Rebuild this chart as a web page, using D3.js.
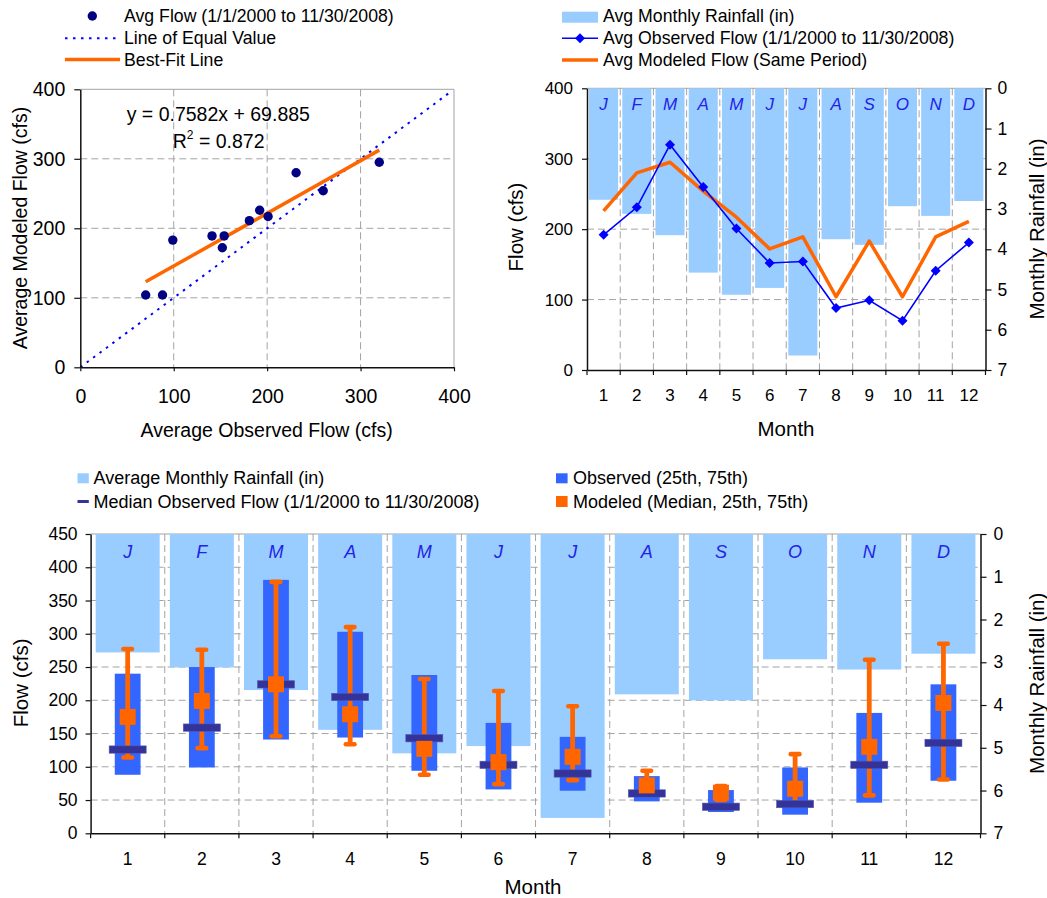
<!DOCTYPE html>
<html><head><meta charset="utf-8">
<script src="https://cdn.jsdelivr.net/npm/d3@7"></script>
<style>
body{margin:0;background:#fff;}
svg{display:block;font-family:"Liberation Sans",Arial,Helvetica,sans-serif;}
</style></head><body>
<svg id="c" width="1047" height="898"></svg>
<script>
// ---------------- DATA ----------------
const months = [1,2,3,4,5,6,7,8,9,10,11,12];
const monthLetters = ["J","F","M","A","M","J","J","A","S","O","N","D"];
const rainfall = [2.77, 3.12, 3.65, 4.58, 5.13, 4.96, 6.64, 3.75, 3.89, 2.93, 3.17, 2.80];
const avgObserved = [192, 231, 320, 260, 201, 152, 154, 88, 99, 70, 141, 181];
const avgModeled  = [226, 280, 295, 254, 217, 172, 189, 104, 183, 104, 189, 211];
const fitSlope = 0.7582, fitIntercept = 69.885, fitR2 = 0.872;
const obsMedian = [126, 159, 224, 205, 143, 103, 90, 60, 40, 44, 103, 136];
const obsP25    = [88, 99, 141, 144, 94, 66, 64, 48, 32, 28, 46, 79];
const obsP75    = [240, 250, 381, 303, 238, 166, 145, 86, 65, 99, 181, 224];
const modMedian = [175, 199, 224, 179, 127, 107, 115, 72, 61, 67, 130, 196];
const modP25    = [114, 128, 146, 134, 88, 74, 80, 62, 50, 45, 57, 81];
const modP75    = [277, 276, 378, 310, 232, 214, 191, 94, 71, 119, 261, 285];
const scatterTicks = [0,100,200,300,400];
const flowTicksTop = [0,100,200,300,400];
const rainTicks = [0,1,2,3,4,5,6,7];
const flowTicksBottom = [0,50,100,150,200,250,300,350,400,450];

// ---------------- STYLE ----------------
const GRID = "#a3a3a3", AXIS = "#111", RAIN = "#99ccff", ORANGE = "#ff6600",
      OBSLINE = "#0000ff", BOX = "#3366ff", NAVY = "#333399", DOT = "#000080", LETTER = "#2323e6";
const svg = d3.select("#c");
const fmtInt = d3.format("d");

function styleAxis(g, fs) {
  g.select(".domain").attr("stroke", AXIS).attr("stroke-width", 1.5);
  g.selectAll(".tick line").attr("stroke", AXIS).attr("stroke-width", 1.2);
  g.selectAll(".tick text").attr("font-size", fs).attr("fill", "#000")
    .attr("font-family", '"Liberation Sans",Arial,sans-serif');
}
function dashed(sel) { return sel.attr("stroke", GRID).attr("stroke-width", 1).attr("stroke-dasharray", "7,4"); }
function vtitle(g, text, cx, cy, fs) {
  g.append("text").attr("transform", `translate(${cx},${cy}) rotate(-90)`)
    .attr("text-anchor", "middle").attr("dominant-baseline", "central")
    .attr("font-size", fs).text(text);
}
function htitle(g, text, cx, cy, fs) {
  g.append("text").attr("x", cx).attr("y", cy).attr("text-anchor", "middle")
    .attr("dominant-baseline", "central").attr("font-size", fs).text(text);
}
function legendText(g, text, x, y, fs) {
  g.append("text").attr("x", x).attr("y", y).attr("dominant-baseline", "central")
    .attr("font-size", fs).text(text);
}
const diamond = "M0,-5L5,0L0,5L-5,0Z";

// ================= CHART 1: scatter =================
(function(){
  const p = {l:80.3, r:454, t:89.3, b:367.3};
  const x = d3.scaleLinear().domain([0,400]).range([p.l,p.r]);
  const y = d3.scaleLinear().domain([0,400]).range([p.b,p.t]);
  const g = svg.append("g");
  const inner = scatterTicks.filter(v => v > 0 && v < 400);
  dashed(g.selectAll(".gv").data(inner).join("line")
    .attr("x1", d=>x(d)).attr("x2", d=>x(d)).attr("y1", p.t).attr("y2", p.b));
  dashed(g.selectAll(".gh").data(inner).join("line")
    .attr("y1", d=>y(d)).attr("y2", d=>y(d)).attr("x1", p.l).attr("x2", p.r));
  g.append("path").attr("d", `M${p.l},${p.t}H${p.r}V${p.b}`).attr("fill","none").attr("stroke", GRID);
  // line of equal value
  g.append("line").attr("x1", x(0)).attr("y1", y(0)).attr("x2", x(398)).attr("y2", y(398))
    .attr("stroke", OBSLINE).attr("stroke-width", 2).attr("stroke-dasharray", "2.5,5.5");
  // best-fit
  const ext = d3.extent(avgObserved);
  g.append("line").attr("x1", x(ext[0])).attr("y1", y(fitSlope*ext[0]+fitIntercept))
    .attr("x2", x(ext[1])).attr("y2", y(fitSlope*ext[1]+fitIntercept))
    .attr("stroke", ORANGE).attr("stroke-width", 3.5);
  // points
  g.selectAll(".pt").data(months).join("circle")
    .attr("cx", (d,i)=>x(avgObserved[i])).attr("cy", (d,i)=>y(avgModeled[i]))
    .attr("r", 4.7).attr("fill", DOT);
  // axes
  const ay = g.append("g").attr("transform", `translate(${p.l},0)`)
    .call(d3.axisLeft(y).tickValues(scatterTicks).tickSize(6).tickSizeOuter(0).tickPadding(9));
  styleAxis(ay, 19.5);
  const ax = g.append("g").attr("transform", `translate(0,${p.b})`)
    .call(d3.axisBottom(x).tickValues(scatterTicks).tickSize(4).tickSizeOuter(0).tickPadding(17.5));
  styleAxis(ax, 19.5);
  // equation
  g.append("text").attr("x", 126.7).attr("y", 120.7).attr("font-size", 19.5)
    .text(`y = ${fitSlope}x + ${fitIntercept}`);
  const r2 = g.append("text").attr("x", 172.7).attr("y", 147.7).attr("font-size", 19.5);
  r2.append("tspan").text("R");
  r2.append("tspan").attr("font-size", 12).attr("dy", -9).text("2");
  r2.append("tspan").attr("dy", 9).text(` = ${fitR2}`);
  // titles
  vtitle(g, "Average Modeled Flow (cfs)", 20, 228, 19.5);
  htitle(g, "Average Observed Flow (cfs)", 266.7, 430, 19.5);
  // legend
  g.append("circle").attr("cx", 92.3).attr("cy", 16).attr("r", 4.7).attr("fill", DOT);
  g.append("line").attr("x1", 65).attr("x2", 120).attr("y1", 38.3).attr("y2", 38.3)
    .attr("stroke", OBSLINE).attr("stroke-width", 2).attr("stroke-dasharray", "2.5,5.5");
  g.append("line").attr("x1", 65).attr("x2", 120).attr("y1", 59.5).attr("y2", 59.5)
    .attr("stroke", ORANGE).attr("stroke-width", 3.5);
  legendText(g, "Avg Flow (1/1/2000 to 11/30/2008)", 124, 16, 17.7);
  legendText(g, "Line of Equal Value", 124, 38.3, 17.7);
  legendText(g, "Best-Fit Line", 124, 60, 17.7);
})();

// ================= CHART 2: monthly lines =================
(function(){
  const p = {l:587, r:985.5, t:88.3, b:370};
  const x = d3.scaleBand().domain(months).range([p.l,p.r]).paddingInner(0.125).paddingOuter(0.0625);
  const y = d3.scaleLinear().domain([0,400]).range([p.b,p.t]);
  const r = d3.scaleLinear().domain([0,7]).range([p.t,p.b]);
  const half = (x.step()-x.bandwidth())/2;
  const bounds = months.map(m => x(m)-half).concat([p.r]);
  const cx = m => x(m) + x.bandwidth()/2;
  const g = svg.append("g");
  dashed(g.selectAll(".gh").data(flowTicksTop.filter(v=>v>0&&v<400)).join("line")
    .attr("y1", d=>y(d)).attr("y2", d=>y(d)).attr("x1", p.l).attr("x2", p.r));
  dashed(g.selectAll(".gv").data(bounds.slice(1,-1)).join("line")
    .attr("x1", d=>d).attr("x2", d=>d).attr("y1", p.t).attr("y2", p.b));
  g.append("line").attr("x1", p.l).attr("x2", p.r).attr("y1", p.t).attr("y2", p.t).attr("stroke", GRID);
  // rain bars
  g.selectAll(".bar").data(months).join("rect")
    .attr("x", d=>x(d)).attr("width", x.bandwidth())
    .attr("y", r(0)).attr("height", (d,i)=>r(rainfall[i])-r(0)).attr("fill", RAIN);
  g.selectAll(".let").data(months).join("text")
    .attr("x", d=>cx(d)).attr("y", 104).attr("text-anchor","middle").attr("dominant-baseline","central")
    .attr("font-size", 17).attr("font-style","italic").attr("fill", LETTER).text((d,i)=>monthLetters[i]);
  // modeled line
  g.append("path").datum(months)
    .attr("d", d3.line().x(d=>cx(d)).y((d,i)=>y(avgModeled[i])))
    .attr("fill","none").attr("stroke", ORANGE).attr("stroke-width", 3.5).attr("stroke-linejoin","round");
  // observed line
  g.append("path").datum(months)
    .attr("d", d3.line().x(d=>cx(d)).y((d,i)=>y(avgObserved[i])))
    .attr("fill","none").attr("stroke", OBSLINE).attr("stroke-width", 1.6);
  g.selectAll(".dm").data(months).join("path").attr("d", diamond)
    .attr("transform", (d,i)=>`translate(${cx(d)},${y(avgObserved[i])})`).attr("fill", OBSLINE);
  // axes
  const al = g.append("g").attr("transform", `translate(${p.l},0)`)
    .call(d3.axisLeft(y).tickValues(flowTicksTop).tickSize(5).tickSizeOuter(0).tickPadding(9));
  styleAxis(al, 17);
  const ar = g.append("g").attr("transform", `translate(${p.r},0)`)
    .call(d3.axisRight(r).tickValues(rainTicks).tickFormat(fmtInt).tickSize(6).tickSizeOuter(0).tickPadding(6));
  styleAxis(ar, 17.5);
  const ab = g.append("g").attr("transform", `translate(0,${p.b})`)
    .call(d3.axisBottom(x).tickSize(0).tickSizeOuter(0).tickPadding(18.9));
  styleAxis(ab, 17);
  g.selectAll(".bt").data(bounds).join("line")
    .attr("x1", d=>d).attr("x2", d=>d).attr("y1", p.b).attr("y2", p.b+5).attr("stroke", AXIS).attr("stroke-width", 1.2);
  vtitle(g, "Flow (cfs)", 515.7, 227, 20.5);
  vtitle(g, "Monthly Rainfall (in)", 1036, 229, 20.5);
  htitle(g, "Month", 786, 428.3, 20.5);
  // legend
  g.append("rect").attr("x", 562).attr("y", 11.7).attr("width", 36).attr("height", 11).attr("fill", RAIN);
  g.append("line").attr("x1", 562).attr("x2", 598).attr("y1", 38.3).attr("y2", 38.3).attr("stroke", OBSLINE).attr("stroke-width", 1.6);
  g.append("path").attr("d", diamond).attr("transform", "translate(580,38.3)").attr("fill", OBSLINE);
  g.append("line").attr("x1", 562).attr("x2", 598).attr("y1", 60).attr("y2", 60).attr("stroke", ORANGE).attr("stroke-width", 3.5);
  legendText(g, "Avg Monthly Rainfall (in)", 603, 16, 17.7);
  legendText(g, "Avg Observed Flow (1/1/2000 to 11/30/2008)", 603, 38.3, 17.7);
  legendText(g, "Avg Modeled Flow (Same Period)", 603, 60, 17.7);
})();

// ================= CHART 3: percentile boxes =================
(function(){
  const p = {l:90.6, r:980.5, t:534, b:833.3};
  const x = d3.scaleBand().domain(months).range([p.l,p.r]).paddingInner(0.137).paddingOuter(0.0685);
  const y = d3.scaleLinear().domain([0,450]).range([p.b,p.t]);
  const r = d3.scaleLinear().domain([0,7]).range([p.t,p.b]);
  const half = (x.step()-x.bandwidth())/2;
  const bounds = months.map(m => x(m)-half).concat([p.r]);
  const cx = m => x(m) + x.bandwidth()/2;
  const g = svg.append("g");
  dashed(g.selectAll(".gh").data(flowTicksBottom.filter(v=>v>0&&v<450)).join("line")
    .attr("y1", d=>y(d)).attr("y2", d=>y(d)).attr("x1", p.l).attr("x2", p.r));
  dashed(g.selectAll(".gv").data(bounds.slice(1,-1)).join("line")
    .attr("x1", d=>d).attr("x2", d=>d).attr("y1", p.t).attr("y2", p.b));
  g.append("line").attr("x1", p.l).attr("x2", p.r).attr("y1", p.t).attr("y2", p.t).attr("stroke", GRID);
  g.selectAll(".bar").data(months).join("rect")
    .attr("x", d=>x(d)).attr("width", x.bandwidth())
    .attr("y", r(0)).attr("height", (d,i)=>r(rainfall[i])-r(0)).attr("fill", RAIN);
  g.selectAll(".let").data(months).join("text")
    .attr("x", d=>cx(d)).attr("y", 552.3).attr("text-anchor","middle").attr("dominant-baseline","central")
    .attr("font-size", 18).attr("font-style","italic").attr("fill", LETTER).text((d,i)=>monthLetters[i]);
  // observed boxes
  g.selectAll(".box").data(months).join("rect")
    .attr("x", d=>cx(d)-12.9).attr("width", 25.8)
    .attr("y", (d,i)=>y(obsP75[i])).attr("height", (d,i)=>y(obsP25[i])-y(obsP75[i])).attr("fill", BOX);
  // modeled whiskers
  g.selectAll(".wh").data(months).join("line")
    .attr("x1", d=>cx(d)).attr("x2", d=>cx(d))
    .attr("y1", (d,i)=>y(modP75[i])).attr("y2", (d,i)=>y(modP25[i]))
    .attr("stroke", ORANGE).attr("stroke-width", 4.8);
  const caps = [];
  months.forEach((m,i)=>{ caps.push([m, modP75[i]]); caps.push([m, modP25[i]]); });
  g.selectAll(".cap").data(caps).join("line")
    .attr("x1", d=>cx(d[0])-4.3).attr("x2", d=>cx(d[0])+4.3)
    .attr("y1", d=>y(d[1])).attr("y2", d=>y(d[1]))
    .attr("stroke", ORANGE).attr("stroke-width", 4.6).attr("stroke-linecap","round");
  // observed medians
  g.selectAll(".med").data(months).join("rect")
    .attr("x", d=>cx(d)-18.5).attr("width", 37)
    .attr("y", (d,i)=>y(obsMedian[i])-3.6).attr("height", 7.3)
    .attr("fill", NAVY).attr("stroke", "#5555aa").attr("stroke-width", 0.6);
  // modeled medians
  g.selectAll(".mm").data(months).join("rect")
    .attr("x", d=>cx(d)-8).attr("width", 16)
    .attr("y", (d,i)=>y(modMedian[i])-8).attr("height", 16).attr("fill", ORANGE);
  // axes
  const al = g.append("g").attr("transform", `translate(${p.l},0)`)
    .call(d3.axisLeft(y).tickValues(flowTicksBottom).tickSize(5).tickSizeOuter(0).tickPadding(8));
  styleAxis(al, 17.5);
  const ar = g.append("g").attr("transform", `translate(${p.r},0)`)
    .call(d3.axisRight(r).tickValues(rainTicks).tickFormat(fmtInt).tickSize(6).tickSizeOuter(0).tickPadding(7));
  styleAxis(ar, 17.5);
  const ab = g.append("g").attr("transform", `translate(0,${p.b})`)
    .call(d3.axisBottom(x).tickSize(0).tickSizeOuter(0).tickPadding(19.7));
  styleAxis(ab, 17.5);
  g.selectAll(".bt").data(bounds).join("line")
    .attr("x1", d=>d).attr("x2", d=>d).attr("y1", p.b).attr("y2", p.b+5).attr("stroke", AXIS).attr("stroke-width", 1.2);
  vtitle(g, "Flow (cfs)", 20.7, 682.8, 20.5);
  vtitle(g, "Monthly Rainfall (in)", 1036, 683.3, 20.5);
  htitle(g, "Month", 533, 886.7, 20.5);
  // legend
  g.append("rect").attr("x", 77.5).attr("y", 473.3).attr("width", 11.3).attr("height", 10).attr("fill", RAIN);
  g.append("rect").attr("x", 77.5).attr("y", 500).attr("width", 11.3).attr("height", 3).attr("fill", NAVY);
  g.append("rect").attr("x", 556).attr("y", 473.3).attr("width", 11.6).attr("height", 10).attr("fill", BOX);
  g.append("rect").attr("x", 556).attr("y", 496).attr("width", 11.6).attr("height", 11).attr("fill", ORANGE);
  legendText(g, "Average Monthly Rainfall (in)", 93.5, 478.3, 18);
  legendText(g, "Median Observed Flow (1/1/2000 to 11/30/2008)", 93.5, 501.7, 18);
  legendText(g, "Observed (25th, 75th)", 573, 478.3, 18);
  legendText(g, "Modeled (Median, 25th, 75th)", 573, 501.7, 18);
})();
</script>
</body></html>
